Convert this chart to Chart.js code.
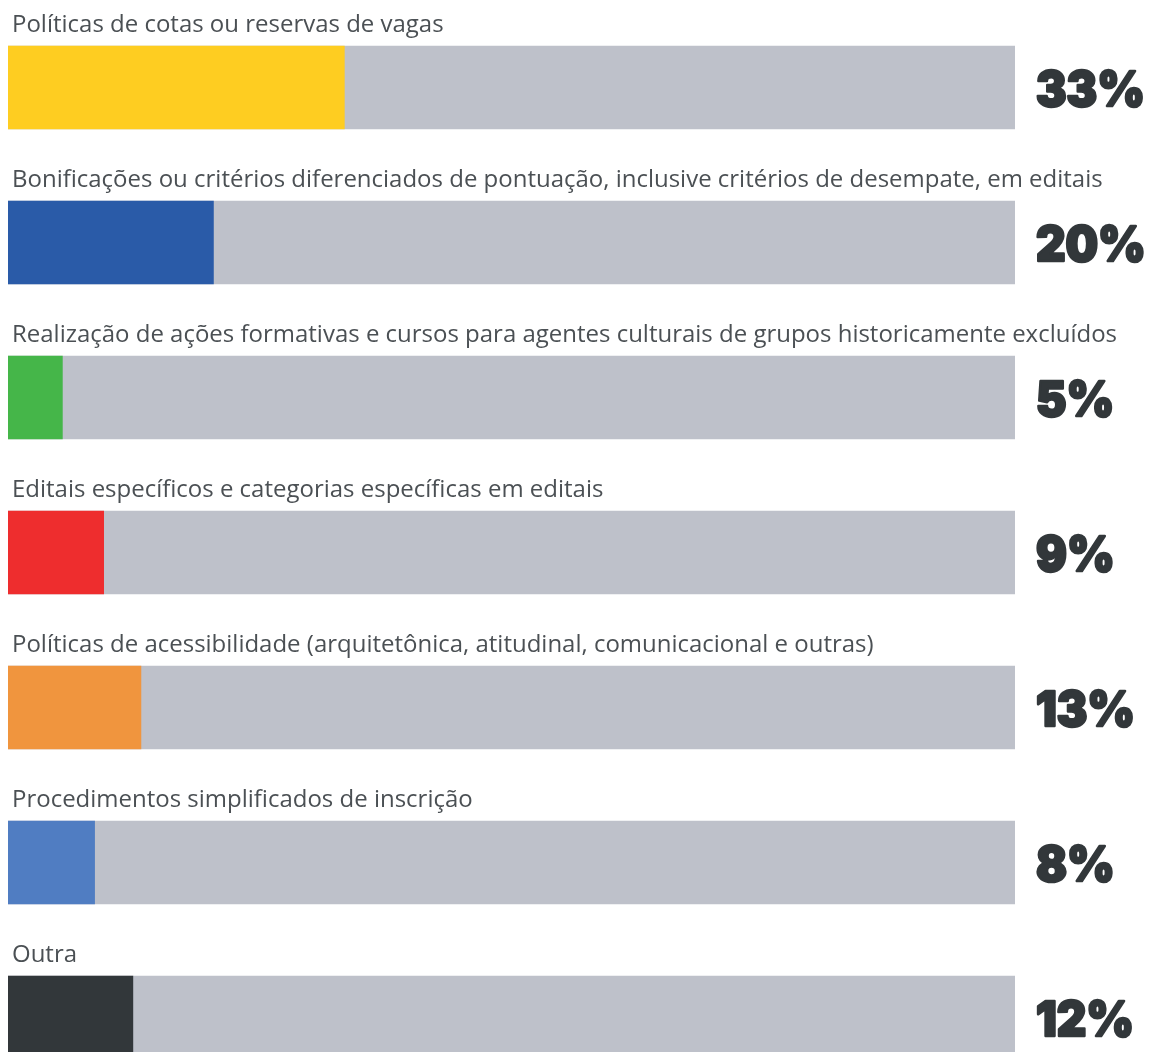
<!DOCTYPE html>
<html>
<head>
<meta charset="utf-8">
<script src="https://cdn.jsdelivr.net/npm/chart.js@4.4.0/dist/chart.umd.min.js"></script>
<style>
html,body{margin:0;padding:0;background:#fff;overflow:hidden;}
#wrap{position:absolute;left:0;top:0;width:1150px;height:1095px;}
</style>
</head>
<body>
<div id="wrap"><canvas id="c"></canvas></div>
<script>
const categories = [
  "Políticas de cotas ou reservas de vagas",
  "Bonificações ou critérios diferenciados de pontuação, inclusive critérios de desempate, em editais",
  "Realização de ações formativas e cursos para agentes culturais de grupos historicamente excluídos",
  "Editais específicos e categorias específicas em editais",
  "Políticas de acessibilidade (arquitetônica, atitudinal, comunicacional e outras)",
  "Procedimentos simplificados de inscrição",
  "Outra"
];
const values = [33.4, 20.4, 5.4, 9.5, 13.2, 8.6, 12.4];
const valueLabels = ["33%", "20%", "5%", "9%", "13%", "8%", "12%"];
const trackValues = [100, 100, 100, 100, 100, 100, 100];
const barColors = ["#FECD21", "#2A5BA8", "#45B649", "#EE2D2E", "#F0953E", "#507DC2", "#32373A"];
const trackColor = "#BEC1CA";

const labelPlugin = {
  id: 'labels',
  afterDatasetsDraw(chart) {
    const ctx = chart.ctx;
    const meta = chart.getDatasetMeta(0);
    ctx.save();
    ctx.font = '400 23px "Open Sans"';
    const longest = ctx.measureText(categories[2]).width;
    const sx = 1105 / longest;
    ctx.font = '900 48px Inter';
    const pw = ctx.measureText(valueLabels[0]).width;
    const psx = 109 / pw;
    meta.data.forEach((bar, i) => {
      const top = bar.y - bar.height / 2;
      ctx.save();
      ctx.font = '400 23px "Open Sans"';
      ctx.fillStyle = '#4B5054';
      ctx.textAlign = 'left';
      ctx.textBaseline = 'alphabetic';
      ctx.translate(12, top - 14);
      ctx.scale(sx, 1);
      ctx.fillText(categories[i], 0, 0);
      ctx.restore();

      ctx.save();
      ctx.font = '900 48px Inter';
      ctx.fillStyle = '#32373A';
      ctx.strokeStyle = '#32373A';
      ctx.lineWidth = 2.5;
      ctx.lineJoin = 'round';
      ctx.textBaseline = 'alphabetic';
      ctx.translate(chart.chartArea.right + 21, bar.y + 18);
      ctx.scale(psx, 1);
      ctx.fillText(valueLabels[i], 0, 0);
      ctx.strokeText(valueLabels[i], 0, 0);
      ctx.restore();
    });
    ctx.restore();
  }
};

new Chart(document.getElementById('c'), {
  type: 'bar',
  data: {
    labels: categories,
    datasets: [
      { data: values, backgroundColor: barColors, barThickness: 83, grouped: false },
      { data: trackValues, backgroundColor: trackColor, barThickness: 83, grouped: false }
    ]
  },
  options: {
    indexAxis: 'y',
    responsive: true,
    maintainAspectRatio: false,
    animation: false,
    layout: { padding: { left: 8, right: 135, top: 10, bottom: 0 } },
    scales: {
      x: { min: 0, max: 100, display: false },
      y: { display: false }
    },
    plugins: { legend: { display: false }, tooltip: { enabled: false } }
  },
  plugins: [labelPlugin]
});
</script>
</body>
</html>
